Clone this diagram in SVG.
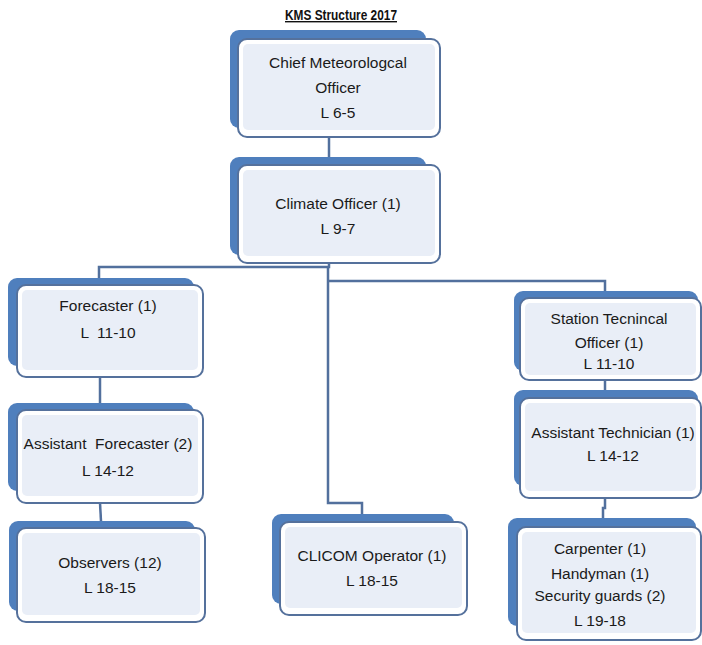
<svg xmlns="http://www.w3.org/2000/svg" width="702" height="645" viewBox="0 0 702 645">
<defs>
<style>
.back{fill:#4f7fbd;}
.front{fill:#ffffff;stroke:#55719c;stroke-width:2;}
.inner{fill:#e9eef7;}
.t{font-family:"Liberation Sans",Arial,sans-serif;font-size:15.5px;fill:#1a1a1a;text-anchor:middle;white-space:pre;}
.title{font-family:"Liberation Sans",Arial,sans-serif;font-size:14px;font-weight:bold;fill:#111;text-anchor:middle;text-decoration:underline;}
.c{fill:none;stroke:#52709d;stroke-width:2.5;}
</style>
</defs>
<rect width="702" height="645" fill="#ffffff"/>
<text class="title" x="341" y="20" textLength="112" lengthAdjust="spacingAndGlyphs">KMS Structure 2017</text>

<g id="connectors">
<path class="c" d="M329,137 V157"/>
<path class="c" d="M329,263 V267 H99 V278"/>
<path class="c" d="M328,267 V503 H362 V514"/>
<path class="c" d="M328,281 H605 V291"/>
<path class="c" d="M100,377 V403"/>
<path class="c" d="M100,503 L101,521"/>
<path class="c" d="M605,380 V390"/>
<path class="c" d="M605,498 V508 H603 V519"/>
</g>

<g id="chief">
<rect class="back" x="230" y="30" width="196" height="98" rx="9"/>
<rect class="front" x="238" y="39" width="202" height="98" rx="9"/>
<rect class="inner" x="243" y="44" width="192" height="86" rx="5"/>
<text class="t" x="338" y="68">Chief Meteorologcal</text>
<text class="t" x="338" y="93">Officer</text>
<text class="t" x="338" y="118">L 6-5</text>
</g>

<g id="climate">
<rect class="back" x="230" y="157" width="196" height="98" rx="9"/>
<rect class="front" x="238" y="165" width="202" height="98" rx="9"/>
<rect class="inner" x="243" y="170" width="192" height="86" rx="5"/>
<text class="t" x="338" y="209">Climate Officer (1)</text>
<text class="t" x="338" y="234">L 9-7</text>
</g>

<g id="forecaster">
<rect class="back" x="8" y="278" width="186" height="88" rx="9"/>
<rect class="front" x="17" y="285" width="186" height="92" rx="9"/>
<rect class="inner" x="22" y="290" width="176" height="80" rx="5"/>
<text class="t" x="108" y="311">Forecaster (1)</text>
<text class="t" x="108" y="338">L  11-10</text>
</g>

<g id="assistant-forecaster">
<rect class="back" x="8" y="403" width="186" height="88" rx="9"/>
<rect class="front" x="17" y="410" width="186" height="93" rx="9"/>
<rect class="inner" x="22" y="415" width="176" height="81" rx="5"/>
<text class="t" x="108" y="449">Assistant  Forecaster (2)</text>
<text class="t" x="108" y="476">L 14-12</text>
</g>

<g id="observers">
<rect class="back" x="9" y="521" width="186" height="90" rx="9"/>
<rect class="front" x="17" y="528" width="188" height="94" rx="9"/>
<rect class="inner" x="22" y="533" width="178" height="82" rx="5"/>
<text class="t" x="110" y="568">Observers (12)</text>
<text class="t" x="110" y="593">L 18-15</text>
</g>

<g id="clicom">
<rect class="back" x="272" y="514" width="182" height="90" rx="9"/>
<rect class="front" x="280" y="522" width="187" height="93" rx="9"/>
<rect class="inner" x="285" y="527" width="177" height="81" rx="5"/>
<text class="t" x="372" y="561">CLICOM Operator (1)</text>
<text class="t" x="372" y="586">L 18-15</text>
</g>

<g id="station">
<rect class="back" x="514" y="291" width="184" height="80" rx="9"/>
<rect class="front" x="520" y="298" width="181" height="82" rx="9"/>
<rect class="inner" x="525" y="303" width="171" height="72" rx="5"/>
<text class="t" x="609" y="324">Station Tecnincal</text>
<text class="t" x="609" y="348">Officer (1)</text>
<text class="t" x="609" y="369">L 11-10</text>
</g>

<g id="assistant-technician">
<rect class="back" x="514" y="390" width="184" height="96" rx="9"/>
<rect class="front" x="520" y="398" width="181" height="100" rx="9"/>
<rect class="inner" x="525" y="403" width="171" height="88" rx="5"/>
<text class="t" x="613" y="438">Assistant Technician (1)</text>
<text class="t" x="613" y="461">L 14-12</text>
</g>

<g id="carpenter">
<rect class="back" x="508" y="518" width="188" height="108" rx="9"/>
<rect class="front" x="517" y="527" width="184" height="113" rx="9"/>
<rect class="inner" x="522" y="532" width="174" height="101" rx="5"/>
<text class="t" x="600" y="554">Carpenter (1)</text>
<text class="t" x="600" y="579">Handyman (1)</text>
<text class="t" x="600" y="601">Security guards (2)</text>
<text class="t" x="600" y="626">L 19-18</text>
</g>
</svg>
